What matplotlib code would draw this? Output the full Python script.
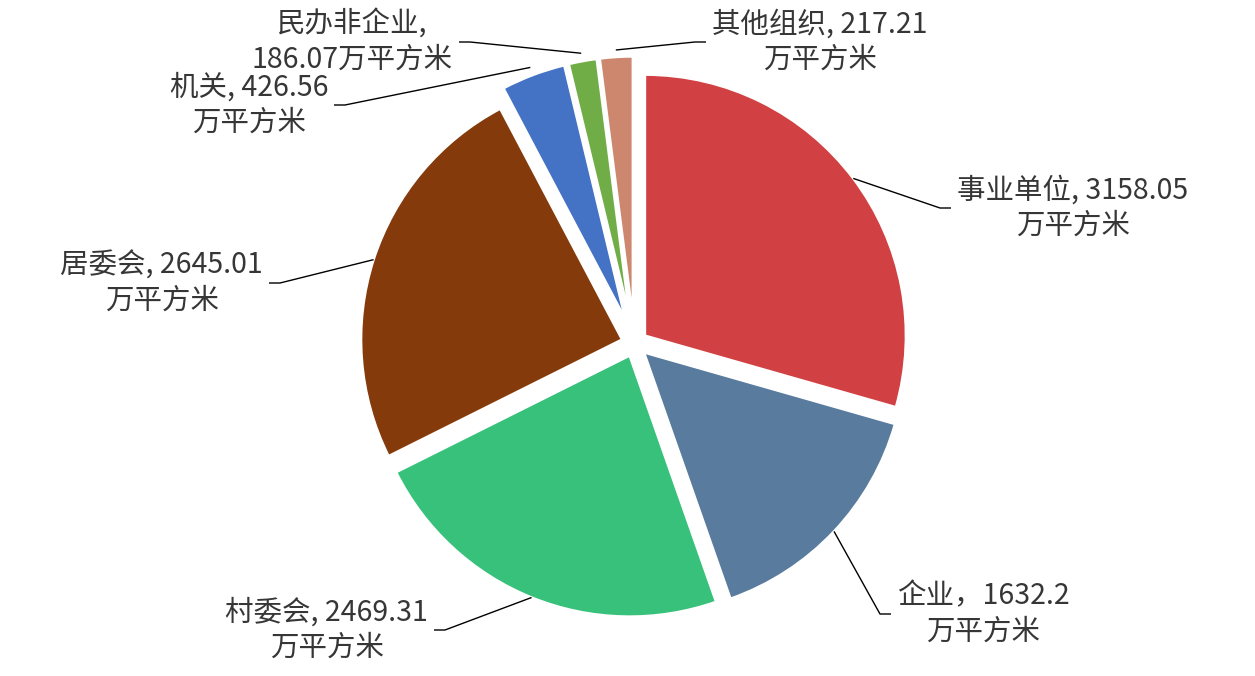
import matplotlib
matplotlib.use("Agg")
from matplotlib import pyplot as plt
import numpy as np

plt.rcParams['font.family'] = ['Noto Sans CJK SC', 'DejaVu Sans']

# data ·························································
names = ['事业单位', '企业', '村委会', '居委会', '机关', '民办非企业', '其他组织']
values = [3158.05, 1632.2, 2469.31, 2645.01, 426.56, 186.07, 217.21]
labels = ['事业单位, 3158.05\n万平方米',
          '企业，1632.2\n万平方米',
          '村委会, 2469.31\n万平方米',
          '居委会, 2645.01\n万平方米',
          '机关, 426.56\n万平方米',
          '民办非企业,\n186.07万平方米',
          '其他组织, 217.21\n万平方米']
colors = ['#D14143', '#587B9E', '#38C17A', '#843A0A', '#4472C4', '#70AD47', '#CE876F']

# layout (pixel coords of the 1255x676 canvas, y from top) ··········
W, H = 1255, 676
cx, cy, R = 634.5, 343.5, 261
explode = [0.05, 0.05, 0.05, 0.05, 0.1, 0.1, 0.1]
# elbow of the leader line, direction of the short horizontal tail
elbows = [(940, 208, 1), (880, 614, 1), (445, 630, -1), (280, 283, -1),
          (345, 105, -1), (470, 42, -1), (695, 42, 1)]
start_pad = [0, 0, 0, 0, 8, 8, 7]

fig = plt.figure(figsize=(W / 100, H / 100), dpi=100)
ax = fig.add_axes([0, 0, 1, 1])

# pie explode is in data units, here pixels
wedges, _ = ax.pie(values, colors=colors, explode=[e * R for e in explode],
                   startangle=90, counterclock=False, radius=R,
                   center=(cx, H - cy),
                   wedgeprops=dict(edgecolor='white', linewidth=1.8))
ax.set_xlim(0, W)
ax.set_ylim(0, H)
ax.set_aspect('equal')
ax.axis('off')

for w, lab, ex, (ex_x, ex_y, d), pad in zip(wedges, labels, explode, elbows, start_pad):
    mid = np.deg2rad((w.theta1 + w.theta2) / 2)
    ox = cx + ex * R * np.cos(mid)
    oy = (H - cy) + ex * R * np.sin(mid)
    sx = ox + (R + pad) * np.cos(mid)
    sy = oy + (R + pad) * np.sin(mid)
    ey = H - ex_y
    tx = ex_x + d * 11
    ax.plot([sx, ex_x, tx], [sy, ey, ey], color='black', lw=1.0,
            solid_capstyle='butt')
    ax.text(tx + d * 6, ey, lab, ha='left' if d > 0 else 'right', va='center',
            multialignment='center', fontsize=20.5, color='#363636',
            fontweight='medium', linespacing=1.22)

fig.savefig('out.png', dpi=100)
plt.close()
